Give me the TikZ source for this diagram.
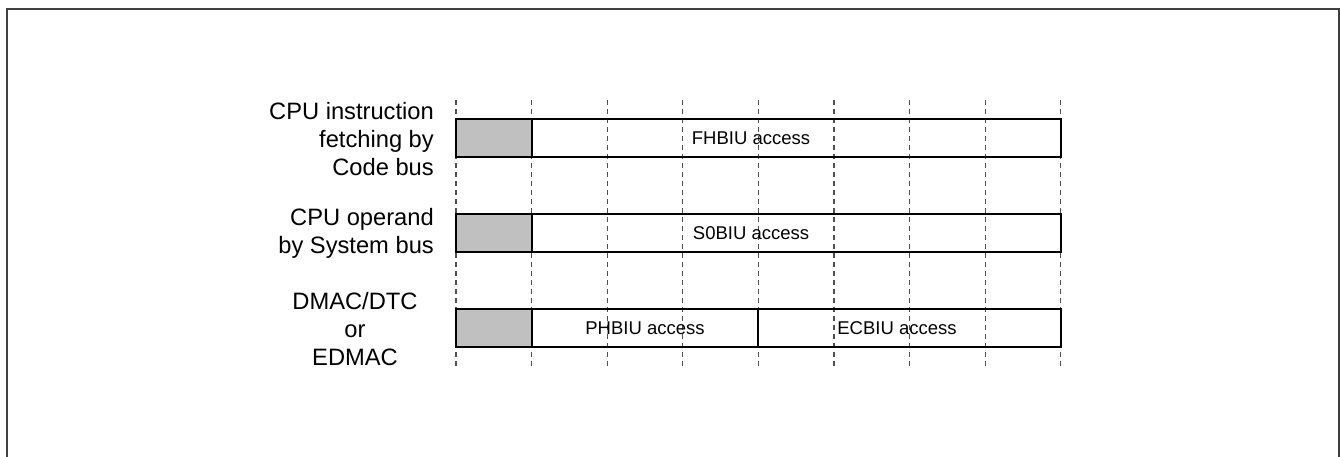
\documentclass[tikz,border=0pt]{standalone}
\usepackage{fontspec}
\setmainfont{Liberation Sans}
\definecolor{slotgray}{HTML}{C0C0C0}
\definecolor{framegray}{HTML}{404040}
\definecolor{dashgray}{HTML}{505050}
\begin{document}
\begin{tikzpicture}[x=1pt,y=-1pt,
  frame/.style={draw=framegray, line width=2.2pt},
  gridline/.style={draw=dashgray, line width=1.2pt, dash pattern=on 5pt off 4pt},
  slot/.style={draw=black, line width=2pt, minimum height=38pt, inner sep=0pt, outer sep=0pt, anchor=north west},
  busy/.style={slot, fill=slotgray},
  rowlabel/.style={font=\fontsize{23.7}{28}\selectfont, inner sep=0pt, text=black},
  boxtext/.style={font=\fontsize{18.5}{22}\selectfont, inner sep=0pt, text=black}
]
\useasboundingbox (0,0) rectangle (1340,457);
% outer frame
\draw[frame] (7,458) -- (7,9) -- (1339,9) -- (1339,458);
% dashed time grid
\foreach \i in {0,...,8}{
  \draw[gridline] ({456+75.6*\i},100) -- ({456+75.6*\i},366);
}
% row 1
\node[busy, minimum width=75.6pt] (r1a) at (456,119) {};
\node[slot, minimum width=529.2pt] (r1b) at (r1a.north east) {};
\node[boxtext] (t1b) at (751,138) {FHBIU access};
% row 2
\node[busy, minimum width=75.6pt] (r2a) at (456,214) {};
\node[slot, minimum width=529.2pt] (r2b) at (r2a.north east) {};
\node[boxtext] (t2b) at (751,233) {S0BIU access};
% row 3
\node[busy, minimum width=75.6pt] (r3a) at (456,309) {};
\node[slot, minimum width=226.8pt] (r3b) at (r3a.north east) {};
\node[slot, minimum width=302.4pt] (r3c) at (r3b.north east) {};
\node[boxtext] (t3b) at (r3b.center) {PHBIU access};
\node[boxtext] (t3c) at (897,328) {ECBIU access};
% row labels
\node[rowlabel, align=right, anchor=east] (l1) at (434,139) {CPU instruction\\fetching by\\Code bus};
\node[rowlabel, align=right, anchor=east] (l2) at (434,233) {CPU operand\\by System bus};
\node[rowlabel, align=center] (l3) at (355,329) {DMAC/DTC\\or\\EDMAC};
\end{tikzpicture}
\end{document}
